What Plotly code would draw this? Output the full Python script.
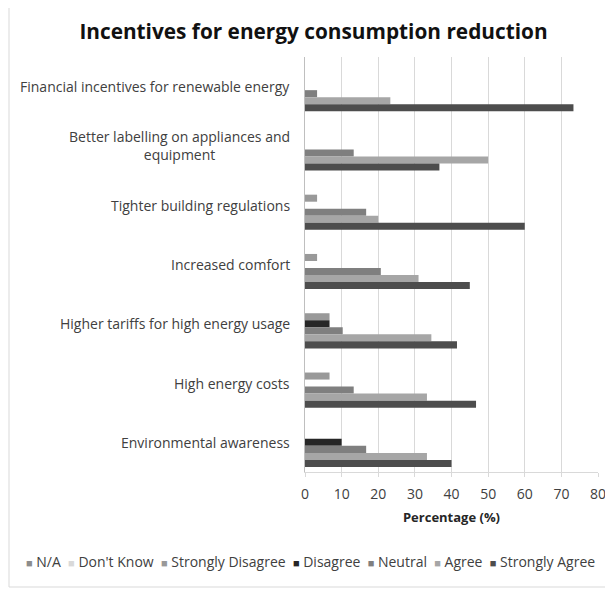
import plotly.graph_objects as go

categories = [
    "Financial incentives for renewable energy",
    "Better labelling on appliances and<br>equipment",
    "Tighter building regulations",
    "Increased comfort",
    "Higher tariffs for high energy usage",
    "High energy costs",
    "Environmental awareness",
]
series_names = ["N/A", "Don't Know", "Strongly Disagree", "Disagree", "Neutral", "Agree", "Strongly Agree"]
na_vals = [0, 0, 0, 0, 0, 0, 0]
dont_know = [0, 0, 0, 0, 0, 0, 0]
strongly_disagree = [0, 0, 3.3, 3.3, 6.7, 6.7, 0]
disagree = [0, 0, 0, 0, 6.7, 0, 10]
neutral = [3.3, 13.3, 16.7, 20.7, 10.3, 13.3, 16.7]
agree = [23.3, 50, 20, 31, 34.5, 33.3, 33.3]
strongly_agree = [73.3, 36.7, 60, 45, 41.5, 46.7, 40]
x_ticks = [0, 10, 20, 30, 40, 50, 60, 70, 80]

series_values = [na_vals, dont_know, strongly_disagree, disagree, neutral, agree, strongly_agree]
colors = ["#8c8c8c", "#d9d9d9", "#999999", "#262626", "#7f7f7f", "#a6a6a6", "#4d4d4d"]

FONT = "Open Sans"
OFF = 8  # page body margin of the browser
W, H = 613, 590
# target page positions of the plot area
PL, PR, PT, PB = 305, 598, 57, 472
L, T = PL - OFF, PT - OFF
R, B = W - (PR - OFF), H - (PB - OFF)
pw, ph = PR - PL, PB - PT


def px_x(p):
    return (p - PL) / pw


def px_y(p):
    return (PB - p) / ph


fig = go.Figure()
for name, vals, col in zip(series_names, series_values, colors):
    fig.add_trace(go.Bar(y=categories, x=vals, name=name, orientation="h",
                         marker=dict(color=col, line=dict(width=0)), showlegend=False))

annotations = []
for c in categories:
    annotations.append(dict(x=0, y=c, xref="paper", yref="y", text=c, showarrow=False,
                            xanchor="right", yanchor="middle", xshift=-13, align="center",
                            font=dict(family=FONT, size=14, color="#404040")))

leg_parts = []
for name, col in zip(series_names, colors):
    leg_parts.append('<span style="color:%s;font-size:11px">■</span> %s' % (col, name))
annotations.append(dict(x=px_x(310), y=px_y(561), xref="paper", yref="paper",
                        text="  ".join(leg_parts), showarrow=False, xanchor="center",
                        yanchor="middle", font=dict(family=FONT, size=14, color="#404040")))

fig.update_layout(
    width=W, height=H,
    margin=dict(l=L, r=R, t=T, b=B),
    paper_bgcolor="white", plot_bgcolor="white",
    barmode="group", bargap=0.17, bargroupgap=0,
    title=dict(text="<b>Incentives for energy consumption reduction</b>", x=(313.5 - OFF) / W,
               xref="container", y=1 - (32 - OFF) / H, yref="container", xanchor="center",
               yanchor="middle", font=dict(family=FONT, size=20.8, color="#111111")),
    xaxis=dict(range=[0, 80], tickvals=x_ticks, showgrid=True, gridcolor="#d9d9d9", gridwidth=1,
               zeroline=False, showline=True, linecolor="#d9d9d9", ticks="outside", ticklen=4,
               tickcolor="#d9d9d9", ticklabelstandoff=5,
               tickfont=dict(family=FONT, size=14, color="#404040"),
               title=dict(text="<b>Percentage (%)</b>", standoff=11,
                          font=dict(family=FONT, size=13, color="#262626"))),
    yaxis=dict(autorange="reversed", showticklabels=False, showgrid=False, zeroline=False,
               showline=True, linecolor="#bfbfbf"),
    annotations=annotations,
    shapes=[dict(type="rect", xref="paper", yref="paper",
                 x0=px_x(9), x1=px_x(606), y0=px_y(587), y1=px_y(2),
                 line=dict(color="#d9d9d9", width=1), fillcolor="rgba(0,0,0,0)", layer="below")],
)

fig.write_html("out.html")
